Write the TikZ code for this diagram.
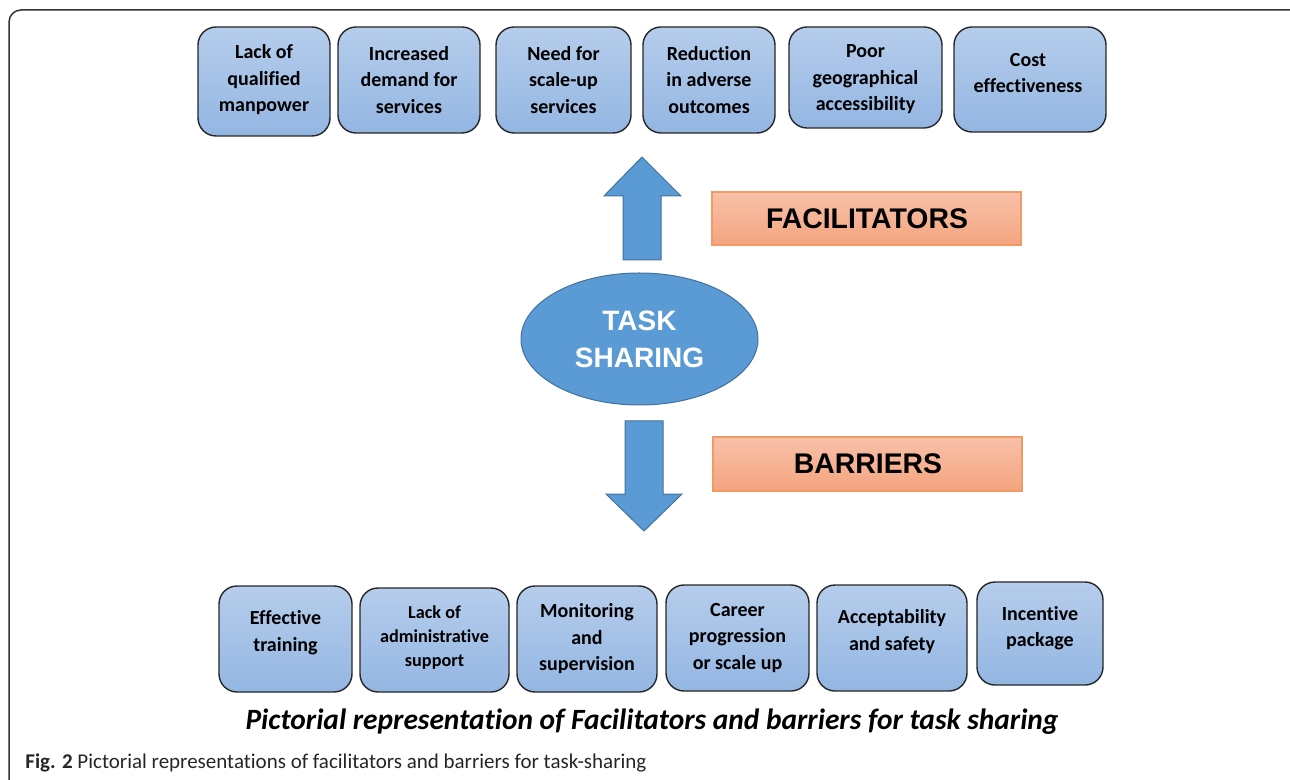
\documentclass[tikz,border=0pt]{standalone}
\usepackage{fontspec}
\setmainfont{Carlito}[Ligatures=NoCommon]
\newfontfamily\arialf{Liberation Sans}
\usetikzlibrary{fit,shapes.geometric}
\definecolor{boxtop}{HTML}{B6CDEC}
\definecolor{boxbot}{HTML}{93B6E2}
\definecolor{otop}{HTML}{F8C1A9}
\definecolor{obot}{HTML}{F4A47F}
\definecolor{oborder}{HTML}{F29A64}
\definecolor{blfill}{HTML}{5B9BD5}
\definecolor{blborder}{HTML}{41719C}
\definecolor{framec}{HTML}{333333}
\tikzset{
  fbox/.style={draw=black!85, line width=0.7pt, rounded corners=9pt, top color=boxtop, bottom color=boxbot, inner sep=0pt},
  btext/.style={font=\bfseries\fontsize{10}{13.25}\selectfont, align=center, inner sep=0pt, text=black},
  stext/.style={font=\bfseries\fontsize{9.1}{12}\selectfont, align=center, inner sep=0pt, text=black},
  obox/.style={draw=oborder, line width=0.6pt, top color=otop, bottom color=obot, inner sep=0pt},
  obtext/.style={font=\arialf\bfseries\fontsize{14.2}{17}\selectfont, text=black, inner sep=0pt},
  barrow/.style={fill=blfill, draw=blborder, line width=0.5pt},
  frame/.style={draw=framec, line width=0.75pt, rounded corners=6pt}
}
\begin{document}
\begin{tikzpicture}[x=0.5pt,y=-0.5pt]
\useasboundingbox (0,0) rectangle (1290,780);
\begin{scope}
\clip (0,0) rectangle (1290,780);
\draw[frame] (9,10) rectangle (1310,800);
\end{scope}
% top boxes
\node[fbox, fit={(198,27) (330,136)}] (f1) {};
\node[fbox, fit={(338,27) (480,133)}] (f2) {};
\node[fbox, fit={(496,27) (631,133)}] (f3) {};
\node[fbox, fit={(643,27) (775,133)}] (f4) {};
\node[fbox, fit={(789,27) (942,128)}] (f5) {};
\node[fbox, fit={(954,27) (1106,132)}] (f6) {};
\node[btext] (f1t) at (264,80) {Lack of\\qualified\\manpower};
\node[btext] (f2t) at (409,80) {Increased\\demand for\\services};
\node[btext] (f3t) at (563.5,80) {Need for\\scale-up\\services};
\node[btext] (f4t) at (709,80) {Reduction\\in adverse\\outcomes};
\node[btext] (f5t) at (865.5,79.5) {Poor\\geographical\\accessibility};
\node[btext] (f6t) at (1028,73) {Cost\\effectiveness};
% bottom boxes
\node[fbox, fit={(219,586) (352,692)}] (b1) {};
\node[fbox, fit={(360,588) (509,692)}] (b2) {};
\node[fbox, fit={(517,586) (657,692)}] (b3) {};
\node[fbox, fit={(666,585) (809,691)}] (b4) {};
\node[fbox, fit={(817,585) (967,691)}] (b5) {};
\node[fbox, fit={(977,582) (1103,685)}] (b6) {};
\node[btext] (b1t) at (285.5,632.5) {Effective\\training};
\node[stext] (b2t) at (434.5,637.5) {Lack of\\administrative\\support};
\node[btext] (b3t) at (587,639) {Monitoring\\and\\supervision};
\node[btext] (b4t) at (737.5,638) {Career\\progression\\or scale up};
\node[btext] (b5t) at (892,631.5) {Acceptability\\and safety};
\node[btext] (b6t) at (1040,628) {Incentive\\package};
% centre
\node[ellipse, fill=blfill, draw=blborder, line width=0.5pt, minimum width=118.5pt, minimum height=66pt, inner sep=0pt, align=center, text=white, font=\arialf\bfseries\fontsize{14}{18.5}\selectfont] (ts) at (639.5,339) {TASK\\SHARING};
\draw[barrow] (642,157) -- (681,196) -- (661,196) -- (661,260) -- (623,260) -- (623,196) -- (604,196) -- cycle;
\draw[barrow] (625,421) -- (663,421) -- (663,494) -- (682,494) -- (644,531) -- (606,494) -- (625,494) -- cycle;
\node[obox, fit={(712,192) (1021,245)}] (fac) {};
\node[obtext] (fact) at (867,218.5) {FACILITATORS};
\node[obox, fit={(713,437) (1022,491)}] (bar) {};
\node[obtext] (bart) at (868,463.5) {BARRIERS};
% captions
\node[inner sep=0pt, font=\bfseries\itshape\fontsize{14.7}{17}\selectfont] (cap) at (652,722) {Pictorial representation of Facilitators and barriers for task sharing};
\node[inner sep=0pt, anchor=west, font=\fontsize{10.5}{13}\selectfont, text=black!85] (fig) at (25,763) {\textbf{Fig. 2} Pictorial representations of facilitators and barriers for task-sharing};
\end{tikzpicture}
\end{document}
